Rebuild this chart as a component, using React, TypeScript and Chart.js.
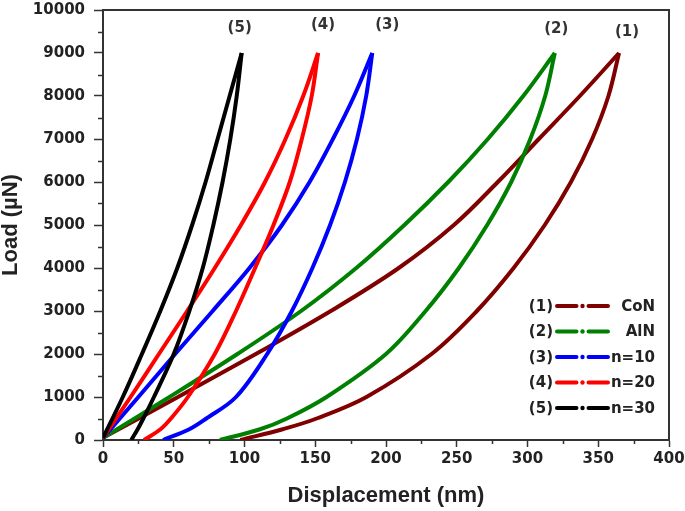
import React, { useEffect, useRef } from 'react';
import { Chart, registerables } from 'chart.js';

Chart.register(...registerables);

// ---- data ----
const seriesTags = ['(1)', '(2)', '(3)', '(4)', '(5)'];
const seriesNames = ['CoN', 'AlN', 'n=10', 'n=20', 'n=30'];
const seriesColors = ['#800000', '#008000', '#0000ff', '#ff0000', '#000000'];

const xTicks = [0, 50, 100, 150, 200, 250, 300, 350, 400];
const yTicks = [0, 1000, 2000, 3000, 4000, 5000, 6000, 7000, 8000, 9000, 10000];

// loading branches share the same load levels (µN)
const loadingLoads = [50, 1000, 2000, 3000, 4000, 5000, 6000, 7000, 8000, 9000];
// unloading branches share the same load levels (µN)
const unloadingLoads = [9000, 8000, 7000, 6000, 5000, 4000, 3000, 2000, 1000, 500, 250, 0];

// (1) CoN
const conLoadX = [0, 53, 108, 161, 209, 248, 279, 308, 337, 364.7];
const conUnloadX = [364.7, 357.2, 345.7, 330.7, 312.2, 290.2, 264.2, 232.2, 186.2, 151, 127, 97];

// (2) AlN
const alnLoadX = [0, 47, 95, 140, 179, 213, 244, 272, 297, 319.3];
const alnUnloadX = [319.3, 312.5, 302, 288.5, 271.5, 251.5, 228, 200, 158, 130, 111, 82.6];

// (3) n=10
const n10LoadX = [0, 25, 51, 77.5, 103.5, 126.5, 146, 162.5, 177.5, 190.3];
const n10UnloadX = [190.3, 186, 179.5, 171, 160.5, 148, 133.5, 116, 94, 73, 61, 42.5];

// (4) n=20
const n20LoadX = [0, 19.5, 39.5, 59.5, 79, 97.5, 114.5, 129, 141.5, 152];
const n20UnloadX = [152, 147.5, 140.5, 132, 120.5, 107.5, 94, 79, 60, 48, 40.6, 29];

// (5) n=30
const n30LoadX = [0, 14, 27.5, 40.5, 52.5, 63, 72.5, 81, 89.5, 98];
const n30UnloadX = [98, 94.5, 90, 84.5, 78, 70.5, 61, 50, 36, 28.5, 24.5, 20];

const loadXs = [conLoadX, alnLoadX, n10LoadX, n20LoadX, n30LoadX];
const unloadXs = [conUnloadX, alnUnloadX, n10UnloadX, n20UnloadX, n30UnloadX];

const TICK_FONT = 'DejaVu Sans';
const TITLE_FONT = 'Liberation Sans';
const TEXT = '#222';
const AXIS = '#333';

function toPoints(xs: number[], ys: number[]) {
  return xs.map((x, i) => ({ x, y: ys[i] }));
}

const decorPlugin = {
  id: 'decor',
  afterDraw(chart: any) {
    const { ctx, chartArea: a, scales } = chart;
    const xs = scales.x;
    const ys = scales.y;
    ctx.save();
    // frame (top & right)
    ctx.strokeStyle = AXIS;
    ctx.lineWidth = 2;
    ctx.beginPath();
    ctx.moveTo(a.left, a.top);
    ctx.lineTo(a.right, a.top);
    ctx.lineTo(a.right, a.bottom);
    ctx.stroke();
    // minor ticks
    ctx.lineWidth = 1.5;
    ctx.beginPath();
    for (let i = 0; i < xTicks.length - 1; i++) {
      const v = (xTicks[i] + xTicks[i + 1]) / 2;
      const px = Math.round(xs.getPixelForValue(v)) + 0.5;
      ctx.moveTo(px, a.bottom);
      ctx.lineTo(px, a.bottom + 4);
    }
    for (let i = 0; i < yTicks.length - 1; i++) {
      const v = (yTicks[i] + yTicks[i + 1]) / 2;
      const py = Math.round(ys.getPixelForValue(v)) + 0.5;
      ctx.moveTo(a.left, py);
      ctx.lineTo(a.left - 5, py);
    }
    ctx.stroke();

    // peak annotations
    const dx = [8, 1.5, 15, 5, -2];
    const dy = [21, 24, 28, 28, 25];
    ctx.font = `bold 15px "${TICK_FONT}"`;
    ctx.fillStyle = '#333';
    ctx.textAlign = 'center';
    ctx.textBaseline = 'middle';
    seriesTags.forEach((tag, i) => {
      const lx = loadXs[i][loadXs[i].length - 1];
      const ly = loadingLoads[loadingLoads.length - 1];
      ctx.fillText(tag, xs.getPixelForValue(lx) + dx[i], ys.getPixelForValue(ly) - dy[i]);
    });

    // legend
    const rowTop = a.bottom - 134;
    const rowGap = 25.5;
    const tagRight = a.right - 116;
    const lineL = a.right - 112;
    const lineR = a.right - 61;
    const textRight = a.right - 14;
    seriesNames.forEach((name, i) => {
      const y = rowTop + i * rowGap;
      ctx.fillStyle = TEXT;
      ctx.textAlign = 'right';
      ctx.textBaseline = 'middle';
      ctx.font = `bold 15px "${TICK_FONT}"`;
      ctx.fillText(seriesTags[i], tagRight, y + 1);
      ctx.fillText(name, textRight, y + 1);
      const mid = (lineL + lineR) / 2;
      ctx.strokeStyle = seriesColors[i];
      ctx.lineWidth = 4;
      ctx.lineCap = 'round';
      ctx.beginPath();
      ctx.moveTo(lineL, y);
      ctx.lineTo(mid - 6, y);
      ctx.moveTo(mid + 6, y);
      ctx.lineTo(lineR, y);
      ctx.stroke();
      ctx.fillStyle = seriesColors[i];
      ctx.beginPath();
      ctx.arc(mid, y, 2.2, 0, Math.PI * 2);
      ctx.fill();
    });
    ctx.restore();
  },
};

export default function App() {
  const canvasRef = useRef<HTMLCanvasElement | null>(null);

  useEffect(() => {
    const canvas = canvasRef.current;
    if (!canvas) return;
    const datasets: any[] = [];
    seriesNames.forEach((name, i) => {
      const common = {
        borderColor: seriesColors[i],
        backgroundColor: seriesColors[i],
        borderWidth: 4,
        pointRadius: 0,
        showLine: true,
        tension: 0.35,
        fill: false,
        order: 10 - i,
      };
      datasets.push({ ...common, label: name + ' loading', data: toPoints(loadXs[i], loadingLoads) });
      datasets.push({ ...common, label: name + ' unloading', data: toPoints(unloadXs[i], unloadingLoads) });
    });

    const chart = new Chart(canvas, {
      type: 'scatter',
      data: { datasets },
      options: {
        responsive: false,
        animation: false,
        devicePixelRatio: 1,
        layout: { padding: { top: 10, right: 16, left: 0, bottom: 0 } },
        plugins: { legend: { display: false }, tooltip: { enabled: false } },
        scales: {
          x: {
            type: 'linear',
            min: xTicks[0],
            max: xTicks[xTicks.length - 1],
            afterBuildTicks: (s: any) => {
              s.ticks = xTicks.map((v) => ({ value: v }));
            },
            afterFit: (s: any) => {
              s.height = 71;
              s.paddingLeft = 0;
              s.paddingRight = 0;
            },
            grid: {
              drawOnChartArea: false,
              drawTicks: true,
              tickLength: 7,
              tickWidth: 1.5,
              tickColor: AXIS,
            },
            border: { display: true, color: AXIS, width: 2 },
            ticks: {
              padding: 3,
              color: TEXT,
              maxRotation: 0,
              callback: (v: any) => String(v),
              font: { family: TICK_FONT, weight: 'bold', size: 15 },
            },
            title: {
              display: true,
              text: 'Displacement (nm)',
              color: TEXT,
              font: { family: TITLE_FONT, weight: 'bold', size: 22, lineHeight: 1 },
              padding: { top: 0, bottom: 4 },
            },
          },
          y: {
            type: 'linear',
            min: yTicks[0],
            max: yTicks[yTicks.length - 1],
            afterBuildTicks: (s: any) => {
              s.ticks = yTicks.map((v) => ({ value: v }));
            },
            afterFit: (s: any) => {
              s.width = 103;
              s.paddingTop = 0;
              s.paddingBottom = 0;
            },
            grid: {
              drawOnChartArea: false,
              drawTicks: true,
              tickLength: 9,
              tickWidth: 1.5,
              tickColor: AXIS,
            },
            border: { display: true, color: AXIS, width: 2 },
            ticks: {
              padding: 9,
              color: TEXT,
              callback: (v: any) => String(v),
              font: { family: TICK_FONT, weight: 'bold', size: 15 },
            },
            title: {
              display: true,
              text: 'Load (µN)',
              color: TEXT,
              font: { family: TITLE_FONT, weight: 'bold', size: 22, lineHeight: 1 },
              padding: { top: 0, bottom: 0 },
            },
          },
        },
      },
      plugins: [decorPlugin],
    } as any);

    return () => chart.destroy();
  }, []);

  return (
    <div style={{ position: 'absolute', left: 0, top: 0, width: 685, height: 511, background: '#fff' }}>
      <canvas ref={canvasRef} width={685} height={511} style={{ display: 'block' }} />
    </div>
  );
}
